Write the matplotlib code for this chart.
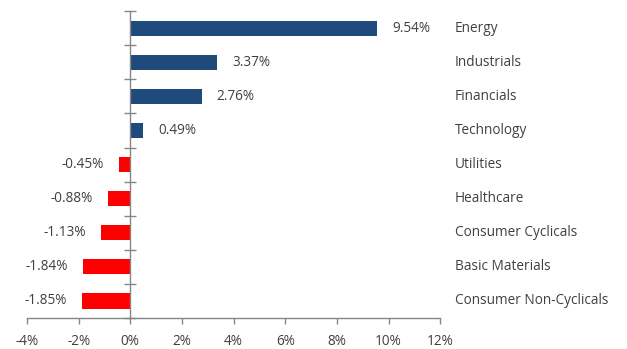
import matplotlib.pyplot as plt
from matplotlib.transforms import blended_transform_factory
import numpy as np

plt.rcParams['font.family'] = ['Open Sans', 'DejaVu Sans']

# Sector returns (%)
sectors = ["Energy", "Industrials", "Financials", "Technology", "Utilities",
           "Healthcare", "Consumer Cyclicals", "Basic Materials",
           "Consumer Non-Cyclicals"]
returns = [9.54, 3.37, 2.76, 0.49, -0.45, -0.88, -1.13, -1.84, -1.85]
x_ticks = [-4, -2, 0, 2, 4, 6, 8, 10, 12]

navy = '#1F4A7C'
red = '#FF0000'
axis_gray = '#868686'
text_gray = '#404040'
fs = 9.8

fig = plt.figure(figsize=(6.27, 3.49), dpi=100)
ax = fig.add_axes([0.043, 0.089, 0.659, 0.879])

y_pos = np.arange(len(sectors))
colors = [navy if v >= 0 else red for v in returns]
bars = ax.barh(y_pos, returns, height=0.45, color=colors)

# value labels next to the bars
for bar, v in zip(bars, returns):
    yc = bar.get_y() + bar.get_height() / 2
    if v >= 0:
        ax.annotate(f'{v:.2f}%', (v, yc), xytext=(11, 0), textcoords='offset points',
                    ha='left', va='center', fontsize=fs, color=text_gray)
    else:
        ax.annotate(f'{v:.2f}%', (v, yc), xytext=(-11, 0), textcoords='offset points',
                    ha='right', va='center', fontsize=fs, color=text_gray)

# category names to the right of the plot
trans = blended_transform_factory(ax.transAxes, ax.transData)
for y, name in zip(y_pos, sectors):
    ax.text(1.036, y, name, transform=trans, ha='left', va='center',
            fontsize=fs, color=text_gray)

ax.set_xlim(-4, 12)
ax.set_ylim(len(sectors) - 0.5, -0.5)
ax.set_xticks(x_ticks)
ax.set_xticklabels([f'{t}%' for t in x_ticks], fontsize=fs, color=text_gray)

# y ticks sit at the category boundaries, crossing the zero line
ax.set_yticks(np.arange(len(sectors) + 1) - 0.5)
ax.set_yticklabels([])
ax.tick_params(axis='y', direction='inout', length=8, width=1, color=axis_gray)
ax.tick_params(axis='x', direction='out', length=4, width=1, color=axis_gray, pad=7.5)

ax.spines['left'].set_position(('data', 0))
ax.spines['top'].set_visible(False)
ax.spines['right'].set_visible(False)
for s in ['left', 'bottom']:
    ax.spines[s].set_color(axis_gray)
    ax.spines[s].set_linewidth(1)

plt.savefig('out.png', dpi=100, facecolor='white')
